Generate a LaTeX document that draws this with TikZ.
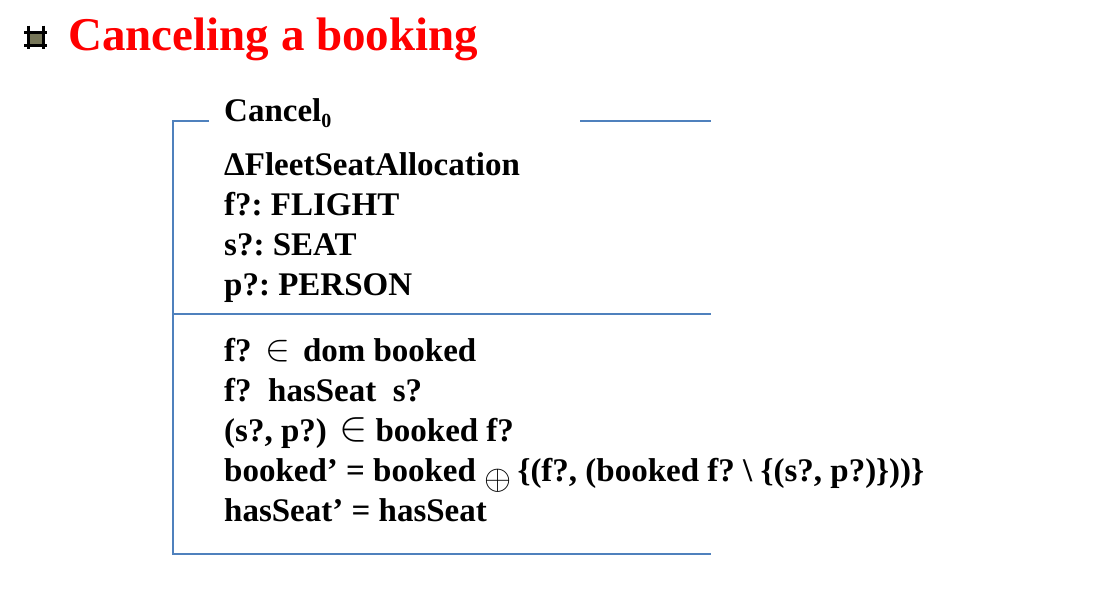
\documentclass[tikz,border=0pt]{standalone}
\usepackage{fontspec}
\usepackage{graphicx}
\setmainfont{Liberation Serif}
\frenchspacing
\newcommand{\zin}[2]{\smash{\raisebox{#2}{\scalebox{#1}{$\in$}}}}
\newcommand{\zoplus}{\smash{\raisebox{-8pt}{\scalebox{1.4}{$\oplus$}}}}
\begin{document}
\begin{tikzpicture}[x=1pt,y=-1pt,
  zline/.style={draw=zblue,line width=2pt},
  ztext/.style={anchor=base west,inner sep=0pt,font=\fontsize{33}{40}\selectfont\bfseries}]
\definecolor{zblue}{RGB}{79,129,189}
\definecolor{olive}{RGB}{118,118,88}
\useasboundingbox (0,0) rectangle (1107,590);
% bullet
\fill[olive] (28.3,32.7) rectangle (43,45);
\draw[line width=3pt,black] (28.3,25.7) -- (28.3,49.3) (43,25.7) -- (43,49.3)
  (24,32.7) -- (47.3,32.7) (24,45) -- (47.3,45);
% title
\node[anchor=base west,inner sep=0pt,text=red,font=\fontsize{47}{56}\selectfont\bfseries] (title) at (68,50) {Canceling a booking};
% schema box
\coordinate (tl) at (173,121);
\coordinate (tlr) at (209,121);
\coordinate (trl) at (580,121);
\coordinate (tr) at (711,121);
\coordinate (ml) at (173,314);
\coordinate (mr) at (711,314);
\coordinate (bl) at (173,554);
\coordinate (br) at (711,554);
\draw[zline] (tlr) -- (tl) -- (bl) -- (br);
\draw[zline] (trl) -- (tr);
\draw[zline] (ml) -- (mr);
% texts
\node[ztext] (name) at (224,121) {Cancel\raisebox{-0.2em}{\fontsize{20}{24}\selectfont 0}};
\node[ztext] (d1) at (224,175) {ΔFleetSeatAllocation};
\node[ztext] (d2) at (224,215) {f?: FLIGHT};
\node[ztext] (d3) at (224,255) {s?: SEAT};
\node[ztext] (d4) at (224,295) {p?: PERSON};
\node[ztext] (p1) at (224,361) {f? \hspace{6pt}\zin{1.5}{0.5pt}\hspace{4pt} dom booked};
\node[ztext] (p2) at (224,401) {f?\ \ hasSeat\ \ s?};
\node[ztext] (p3) at (224,441) {(s?, p?) \hspace{4pt}\zin{1.7}{0.5pt} booked f?};
\node[ztext] (p4) at (224,481) {booked’ = booked \zoplus\hspace{-2pt} \{(f?, (booked f? \textbackslash\ \{(s?, p?)\}))\}};
\node[ztext] (p5) at (224,521) {hasSeat’ = hasSeat};
\end{tikzpicture}
\end{document}
